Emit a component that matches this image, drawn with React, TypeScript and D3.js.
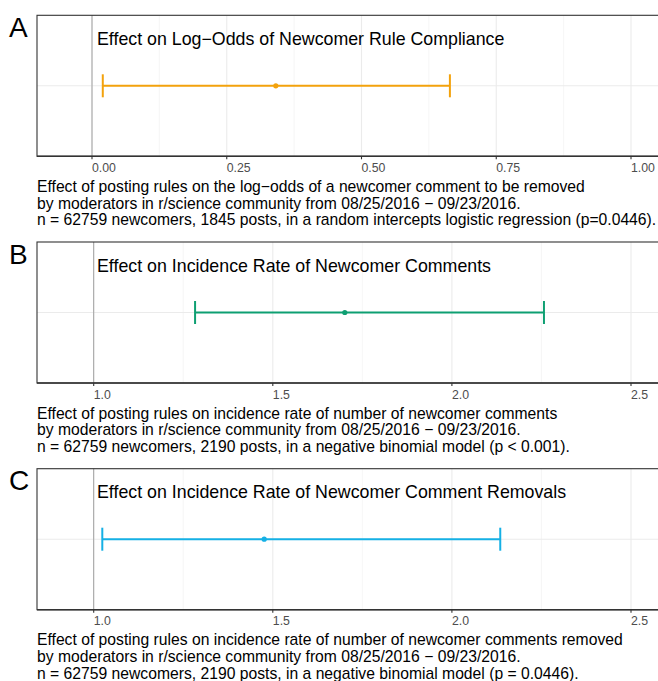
import React from "react";
import * as d3 from "d3";

const panelLetters = ["A", "B", "C"];
const panelTitles = [
  "Effect on Log\u2212Odds of Newcomer Rule Compliance",
  "Effect on Incidence Rate of Newcomer Comments",
  "Effect on Incidence Rate of Newcomer Comment Removals",
];
const estimates = [0.341, 1.701, 1.476];
const lowerBounds = [0.02, 1.283, 1.024];
const upperBounds = [0.664, 2.257, 2.135];
const nullLines = [0, 1, 1];
const barColors = ["#F3A20C", "#0E9F72", "#15B0E5"];

const ticksA = [0, 0.25, 0.5, 0.75, 1.0];
const tickLabelsA = ["0.00", "0.25", "0.50", "0.75", "1.00"];
const ticksBC = [1.0, 1.5, 2.0, 2.5];
const tickLabelsBC = ["1.0", "1.5", "2.0", "2.5"];

const captionsA = [
  "Effect of posting rules on the log\u2212odds of a newcomer comment to be removed",
  "by moderators in r/science community from 08/25/2016 \u2212 09/23/2016.",
  "n = 62759 newcomers, 1845 posts, in a random intercepts logistic regression (p=0.0446).",
];
const captionsB = [
  "Effect of posting rules on incidence rate of number of newcomer comments",
  "by moderators in r/science community from 08/25/2016 \u2212 09/23/2016.",
  "n = 62759 newcomers, 2190 posts, in a negative binomial model (p < 0.001).",
];
const captionsC = [
  "Effect of posting rules on incidence rate of number of newcomer comments removed",
  "by moderators in r/science community from 08/25/2016 \u2212 09/23/2016.",
  "n = 62759 newcomers, 2190 posts, in a negative binomial model (p = 0.0446).",
];

const FONT = "'Liberation Sans', Arial, Helvetica, sans-serif";

const W = 658;
const H = 681;
const PANEL_STEP = 226.7;
const PANEL_TOP = 15.3;
const PANEL_H = 141;
const PANEL_LEFT = 37;
const PANEL_RIGHT = 672;

function Panel({ i }: { i: number }) {
  const top = PANEL_TOP + i * PANEL_STEP;
  const bottom = top + PANEL_H;
  const ticks = i === 0 ? ticksA : ticksBC;
  const labels = i === 0 ? tickLabelsA : tickLabelsBC;
  const captions = [captionsA, captionsB, captionsC][i];
  const x =
    i === 0
      ? d3.scaleLinear().domain([0, 1]).range([92, 631])
      : d3.scaleLinear().domain([1, 2.5]).range([93.7, 631]);
  const y = d3.scaleBand().domain(["effect"]).range([top, bottom]);
  const yc = (y("effect") as number) + y.bandwidth() / 2;
  const minors = d3.pairs(ticks).map(([a, b]) => (a + b) / 2);
  const capHalf = 11.5;
  const color = barColors[i];

  return (
    <g>
      {minors.map((m) => (
        <line key={"mi" + m} x1={x(m)} x2={x(m)} y1={top} y2={bottom} stroke="#F0F0F0" strokeWidth={0.6} />
      ))}
      {ticks.map((t) => (
        <line key={"ma" + t} x1={x(t)} x2={x(t)} y1={top} y2={bottom} stroke="#EBEBEB" strokeWidth={1.1} />
      ))}
      <line x1={PANEL_LEFT} x2={PANEL_RIGHT} y1={yc} y2={yc} stroke="#EBEBEB" strokeWidth={1.1} />
      <line x1={x(nullLines[i])} x2={x(nullLines[i])} y1={top} y2={bottom} stroke="#A0A0A0" strokeWidth={1} />
      <line x1={x(lowerBounds[i])} x2={x(upperBounds[i])} y1={yc} y2={yc} stroke={color} strokeWidth={2} />
      <line x1={x(lowerBounds[i])} x2={x(lowerBounds[i])} y1={yc - capHalf} y2={yc + capHalf} stroke={color} strokeWidth={2} />
      <line x1={x(upperBounds[i])} x2={x(upperBounds[i])} y1={yc - capHalf} y2={yc + capHalf} stroke={color} strokeWidth={2} />
      <circle cx={x(estimates[i])} cy={yc} r={2.6} fill={color} />
      <text x={97} y={top + 29.5} fontFamily={FONT} fontSize={17.8} fill="#000">
        {panelTitles[i]}
      </text>
      <rect x={PANEL_LEFT} y={top} width={PANEL_RIGHT - PANEL_LEFT} height={PANEL_H} fill="none" stroke="#333" strokeWidth={1.1} />
      <line x1={PANEL_LEFT} x2={PANEL_RIGHT} y1={bottom} y2={bottom} stroke="#333" strokeWidth={1.4} />
      {ticks.map((t, k) => (
        <g key={"t" + t}>
          <line x1={x(t)} x2={x(t)} y1={bottom} y2={bottom + 3} stroke="#333" strokeWidth={1.1} />
          <text x={x(t)} y={bottom + 15.7} fontFamily={FONT} fontSize={12.3} fill="#4D4D4D">
            {labels[k]}
          </text>
        </g>
      ))}
      {captions.map((c, k) => (
        <text key={"c" + k} x={PANEL_LEFT} y={bottom + 35.5 + k * 16.8} fontFamily={FONT} fontSize={15.7} fill="#000">
          {c}
        </text>
      ))}
      <text x={9} y={top + 21.6} fontFamily={FONT} fontSize={28} fill="#000">
        {panelLetters[i]}
      </text>
    </g>
  );
}

export default function App() {
  return (
    <svg
      width={W}
      height={H}
      viewBox={`0 0 ${W} ${H}`}
      style={{ position: "absolute", left: 0, top: 0, background: "#fff" }}
    >
      <rect x={0} y={0} width={W} height={H} fill="#fff" />
      {panelLetters.map((_, i) => (
        <Panel key={i} i={i} />
      ))}
    </svg>
  );
}
